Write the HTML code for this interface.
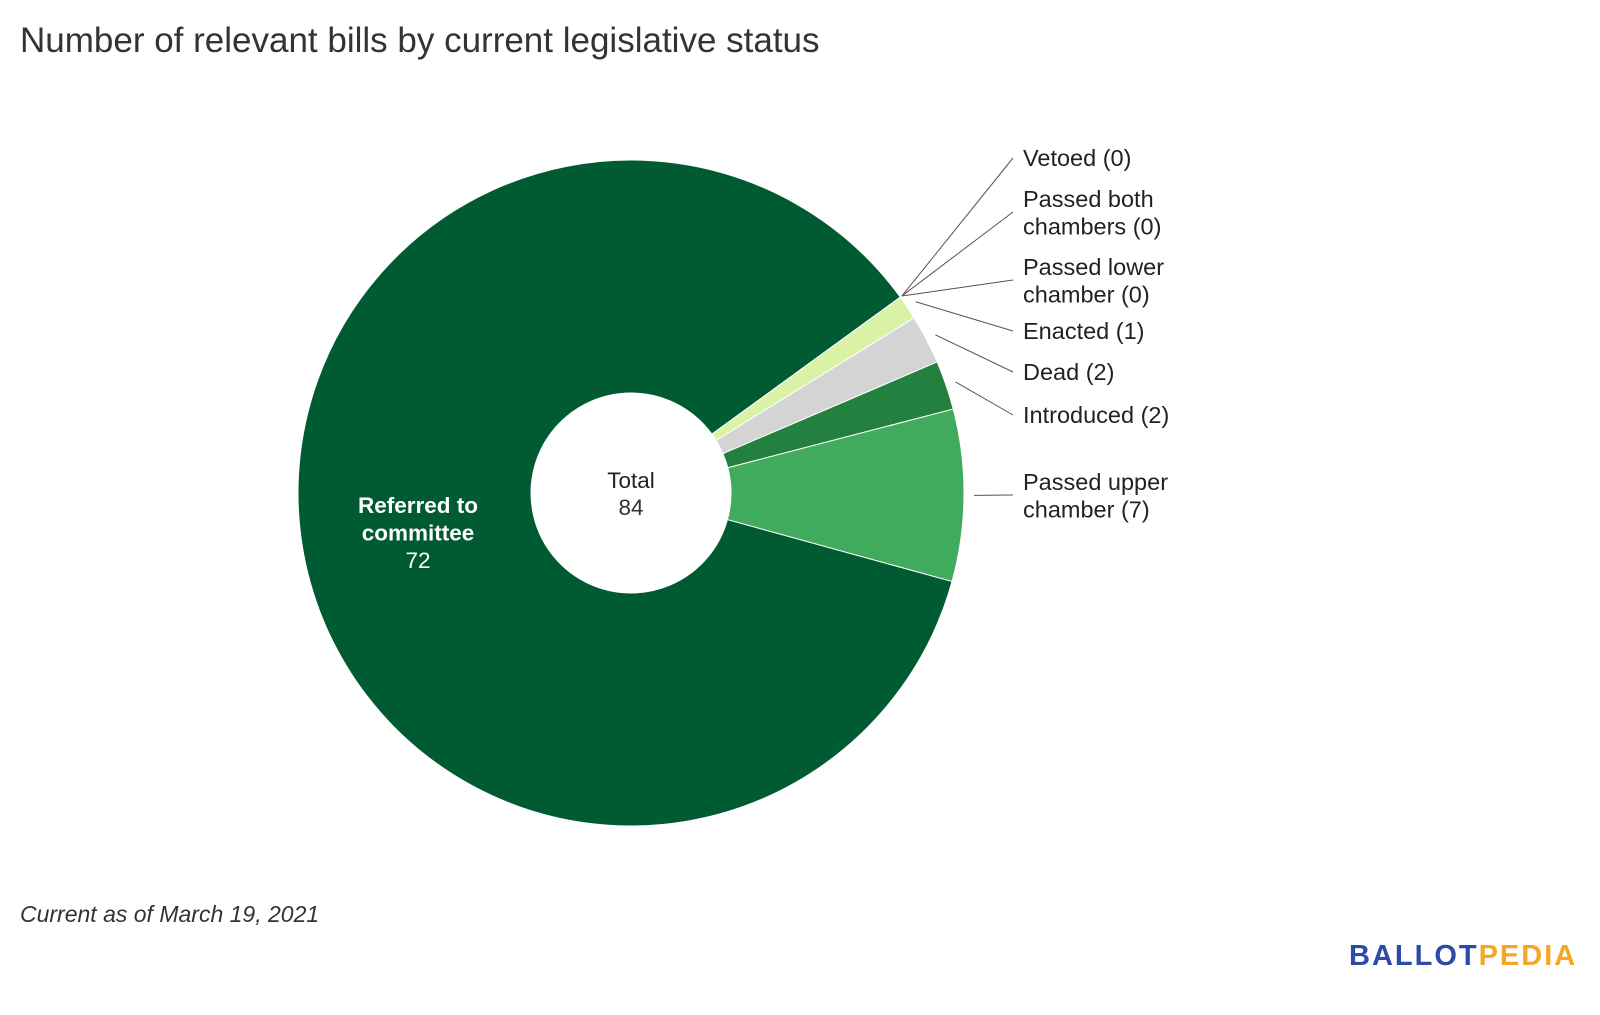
<!DOCTYPE html>
<html><head><meta charset="utf-8">
<style>
html,body{margin:0;padding:0;background:#fff;}
body{width:1600px;height:1015px;position:relative;overflow:hidden;font-family:"Liberation Sans",sans-serif;}
#title{position:absolute;left:20px;top:21px;font-size:35px;color:#333;}
#foot{position:absolute;left:20px;top:901px;font-size:23px;font-style:italic;color:#333;}
#logo{position:absolute;left:1349px;top:940px;font-size:29px;font-weight:bold;letter-spacing:2px;}
</style></head>
<body>
<div id="title">Number of relevant bills by current legislative status</div>
<svg id="chart" width="1600" height="1015" style="position:absolute;left:0;top:0"></svg>
<div id="foot">Current as of March 19, 2021</div>
<div id="logo"><span style="color:#2c4aa8">BALLOT</span><span style="color:#f5a623">PEDIA</span></div>
<script>
const categories = ["Referred to committee","Vetoed","Passed both chambers","Passed lower chamber","Enacted","Dead","Introduced","Passed upper chamber"];
const values = [72,0,0,0,1,2,2,7];
const colors = ["#005a32","#005a32","#005a32","#005a32","#d9f2a6","#d4d4d4","#23803f","#41ab5d"];
const labelLines = [null,["Vetoed (0)"],["Passed both","chambers (0)"],["Passed lower","chamber (0)"],["Enacted (1)"],["Dead (2)"],["Introduced (2)"],["Passed upper","chamber (7)"]];
const labelY = [null,158,199,267,331,372,415,482];

const NS="http://www.w3.org/2000/svg";
const svg=document.getElementById('chart');
const cx=631,cy=493,R=333,r=100,startDeg=15.4;
const total=values.reduce((a,b)=>a+b,0);
function pt(deg,rad){const a=deg*Math.PI/180;return [cx+rad*Math.cos(a),cy+rad*Math.sin(a)];}
function mk(tag,attrs){const e=document.createElementNS(NS,tag);for(const k in attrs)e.setAttribute(k,attrs[k]);svg.appendChild(e);return e;}
let ang=startDeg;
const mids=[];
values.forEach((v,i)=>{
  const sweep=v/total*360;const a0=ang,a1=ang+sweep;ang=a1;
  mids.push((a0+a1)/2);
  if(v<=0)return;
  const [x0,y0]=pt(a0,R),[x1,y1]=pt(a1,R),[x2,y2]=pt(a1,r),[x3,y3]=pt(a0,r);
  const lg=sweep>180?1:0;
  const p=mk('path',{d:`M${x0},${y0}A${R},${R} 0 ${lg} 1 ${x1},${y1}L${x2},${y2}A${r},${r} 0 ${lg} 0 ${x3},${y3}Z`,fill:colors[i],stroke:'#fff','stroke-width':1});
  
  
});
values.forEach((v,i)=>{
  if(!labelLines[i])return;
  const [px,py]=pt(mids[i],R+(v>0?10:2));
  const ly=labelY[i]+(labelLines[i].length>1?13:0);
  const ln=mk('line',{x1:px,y1:py,x2:1013,y2:ly,stroke:'#555','stroke-width':1});
  
  
  const t=mk('text',{x:1023,y:labelY[i]+8,'font-size':23.5,fill:'#222','font-family':'Liberation Sans, sans-serif'});
  
  
  labelLines[i].forEach((s,j)=>{const ts=document.createElementNS(NS,'tspan');ts.setAttribute('x',1023);ts.setAttribute('dy',j?27.5:0);ts.textContent=s;t.appendChild(ts);});
});
const inT=mk('text',{x:418,y:513,'font-size':22.5,fill:'#fff','text-anchor':'middle','font-family':'Liberation Sans, sans-serif'});


[[categories[0].split(' ').slice(0,2).join(' '),'bold'],[categories[0].split(' ').slice(2).join(' '),'bold'],[String(values[0]),'normal']].forEach((s,j)=>{const ts=document.createElementNS(NS,'tspan');ts.setAttribute('x',418);ts.setAttribute('dy',j?27.5:0);ts.setAttribute('font-weight',s[1]);ts.textContent=s[0];inT.appendChild(ts);});
const tT=mk('text',{x:631,y:488,'font-size':22.5,fill:'#222','text-anchor':'middle','font-family':'Liberation Sans, sans-serif'});


tT.textContent='Total';
const tV=mk('text',{x:631,y:515,'font-size':22.5,fill:'#333','text-anchor':'middle','font-family':'Liberation Sans, sans-serif'});


tV.textContent=String(total);
</script>
</body></html>
